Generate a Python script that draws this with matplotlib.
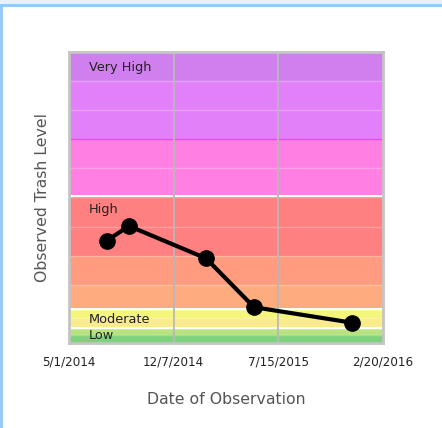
import datetime as dt
import matplotlib
matplotlib.use("Agg")
import matplotlib.pyplot as plt
from matplotlib.patches import Rectangle

# observations
obs_dates = ["2014-07-20", "2014-09-04", "2015-02-13", "2015-05-25", "2015-12-16"]
obs_levels = [3.52, 4.02, 2.91, 1.23, 0.70]

# trash level bands: (bottom, top, colour)
band_bottoms = [0.0, 0.27, 0.55, 0.85, 1.2, 2.0, 3.0, 4.0, 5.07, 6.0, 7.0, 8.0, 9.0]
band_tops = [0.27, 0.48, 0.85, 1.13, 2.0, 3.0, 4.0, 5.02, 6.0, 7.0, 8.0, 9.0, 10.0]
band_colors = ["#7ed27e", "#b8e27e", "#faeb8c", "#f4f67c", "#ffab80", "#ff9c80",
               "#ff8080", "#ff8080", "#ff80e2", "#ff80e2", "#e180f8", "#e180f8", "#d080ee"]

band_labels = ["Low", "Moderate", "High", "Very High"]
label_levels = [0.27, 0.82, 4.57, 9.45]

tick_dates = ["2014-05-01", "2014-12-07", "2015-07-15", "2016-02-20"]
tick_labels = ["5/1/2014", "12/7/2014", "7/15/2015", "2/20/2016"]

to_date = lambda s: dt.datetime.strptime(s, "%Y-%m-%d")
x = [to_date(d) for d in obs_dates]
ticks = [to_date(d) for d in tick_dates]

fig = plt.figure(figsize=(4.42, 4.28), dpi=100)
fig.patch.set_facecolor("white")

# panel frame
fig.patches.append(Rectangle((0, 0.9895), 1, 0.0105, transform=fig.transFigure,
                             facecolor="#eeeff1", edgecolor="none", zorder=0))
fig.patches.append(Rectangle((0.002, -0.02), 1.1, 1.0075, transform=fig.transFigure,
                             facecolor="none", edgecolor="#99c9f7", linewidth=2.2, zorder=1))

ax = fig.add_axes([0.156, 0.1986, 0.7105, 0.68])
ax.set_xlim(ticks[0], ticks[-1])
ax.set_ylim(0, 10)

for b, t, c in zip(band_bottoms, band_tops, band_colors):
    ax.axhspan(b, t, color=c, lw=0, zorder=0)
    if t not in (7.0, 10.0):
        ax.axhline(t, color="white", alpha=0.25, lw=1, zorder=0.5)
ax.axhline(7.0, color="#f448e4", lw=1, zorder=0.6)

for t in ticks[1:-1]:
    ax.axvline(t, color="#b8b8b8", lw=1.3, zorder=1)

for lab, lv in zip(band_labels, label_levels):
    ax.text(to_date("2014-06-12"), lv, lab, fontsize=9.3, color="#222222",
            va="center", ha="left", zorder=2)

ax.plot(x, obs_levels, color="black", lw=3, marker="o", markersize=11, zorder=3)

for s in ax.spines.values():
    s.set_color("#c4c4c4")
    s.set_linewidth(2)

ax.set_yticks([])
ax.set_xticks(ticks)
ax.set_xticklabels(tick_labels, fontsize=8.6, color="#222222")
ax.tick_params(axis="x", length=0, pad=9)
ax.set_xlabel("Date of Observation", fontsize=11.3, color="#555555", labelpad=17)
ax.set_ylabel("Observed Trash Level", fontsize=11.3, color="#555555", labelpad=14)

fig.savefig("out.png", dpi=100)
